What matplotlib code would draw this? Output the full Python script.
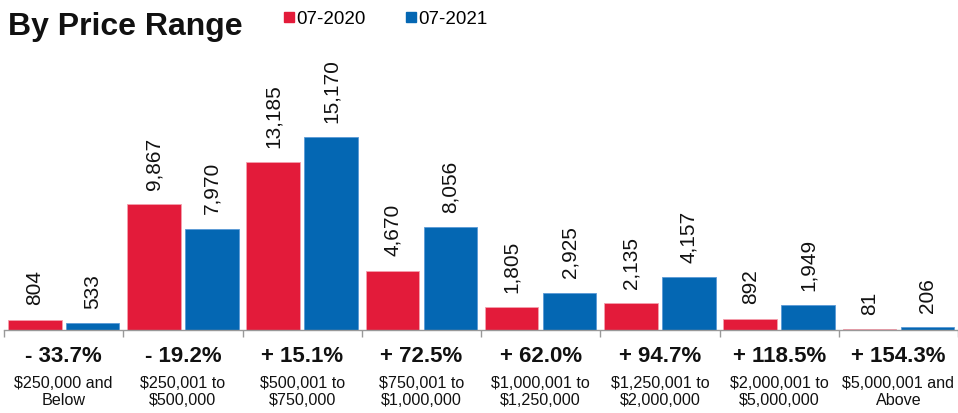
import matplotlib.pyplot as plt
from matplotlib.lines import Line2D
import numpy as np

plt.rcParams['font.family'] = ['Liberation Sans', 'DejaVu Sans']

categories = ["$250,000 and\nBelow", "$250,001 to\n$500,000", "$500,001 to\n$750,000",
              "$750,001 to\n$1,000,000", "$1,000,001 to\n$1,250,000", "$1,250,001 to\n$2,000,000",
              "$2,000,001 to\n$5,000,000", "$5,000,001 and\nAbove"]
sales_2020 = [804, 9867, 13185, 4670, 1805, 2135, 892, 81]
sales_2021 = [533, 7970, 15170, 8056, 2925, 4157, 1949, 206]
changes = ["- 33.7%", "- 19.2%", "+ 15.1%", "+ 72.5%", "+ 62.0%", "+ 94.7%", "+ 118.5%", "+ 154.3%"]
series_names = ["07-2020", "07-2021"]

red = "#E31B3A"
blue = "#0467B3"

fig = plt.figure(figsize=(9.58, 4.14), dpi=100)
ax = fig.add_axes([0.0042, 0.2005, 0.9958, 0.652])

x = np.arange(len(categories))
off, w = 0.243, 0.45
b1 = ax.bar(x - off, sales_2020, w, color=red, edgecolor="#f4a0ad", linewidth=0.6)
b2 = ax.bar(x + off, sales_2021, w, color=blue, edgecolor="#5a9ad6", linewidth=0.6)

for bars, vals in ((b1, sales_2020), (b2, sales_2021)):
    for rect, v in zip(bars, vals):
        ax.annotate(f"{v:,}", (rect.get_x() + rect.get_width() / 2, v),
                    xytext=(0, 11), textcoords="offset points",
                    rotation=90, ha="center", va="bottom", fontsize=15, color="#111111")

ax.set_xlim(-0.5, len(categories) - 0.5)
ax.set_ylim(0, 21200)
ax.set_yticks([])
for s in ("top", "right", "left"):
    ax.spines[s].set_visible(False)
ax.spines["bottom"].set_color("#999999")
ax.spines["bottom"].set_linewidth(1)
ax.set_xticks(np.arange(len(categories) + 1) - 0.5)
ax.set_xticklabels([])
ax.tick_params(axis="x", length=5, color="#999999", width=1)

for i, (c, lab) in enumerate(zip(changes, categories)):
    ax.annotate(c, (i, 0), xytext=(0, -26), textcoords="offset pixels",
                ha="center", va="center", fontsize=16, fontweight="bold", color="#111111")
    ax.annotate(lab, (i, 0), xytext=(0, -61), textcoords="offset pixels",
                ha="center", va="center", fontsize=11.6, color="#111111", linespacing=1.2)

fig.text(0.008, 0.935, "By Price Range", fontsize=23, fontweight="bold",
         ha="left", va="center", color="#111111")

handles = [Line2D([], [], marker="s", linestyle="none", color=red, markersize=7),
           Line2D([], [], marker="s", linestyle="none", color=blue, markersize=7)]
fig.legend(handles, series_names, loc="center left", bbox_to_anchor=(0.294, 0.952),
           ncol=2, frameon=False, fontsize=13.5, handletextpad=0.0, columnspacing=2.0,
           handlelength=0.8, borderpad=0, borderaxespad=0)

fig.savefig("out.png", dpi=100)
